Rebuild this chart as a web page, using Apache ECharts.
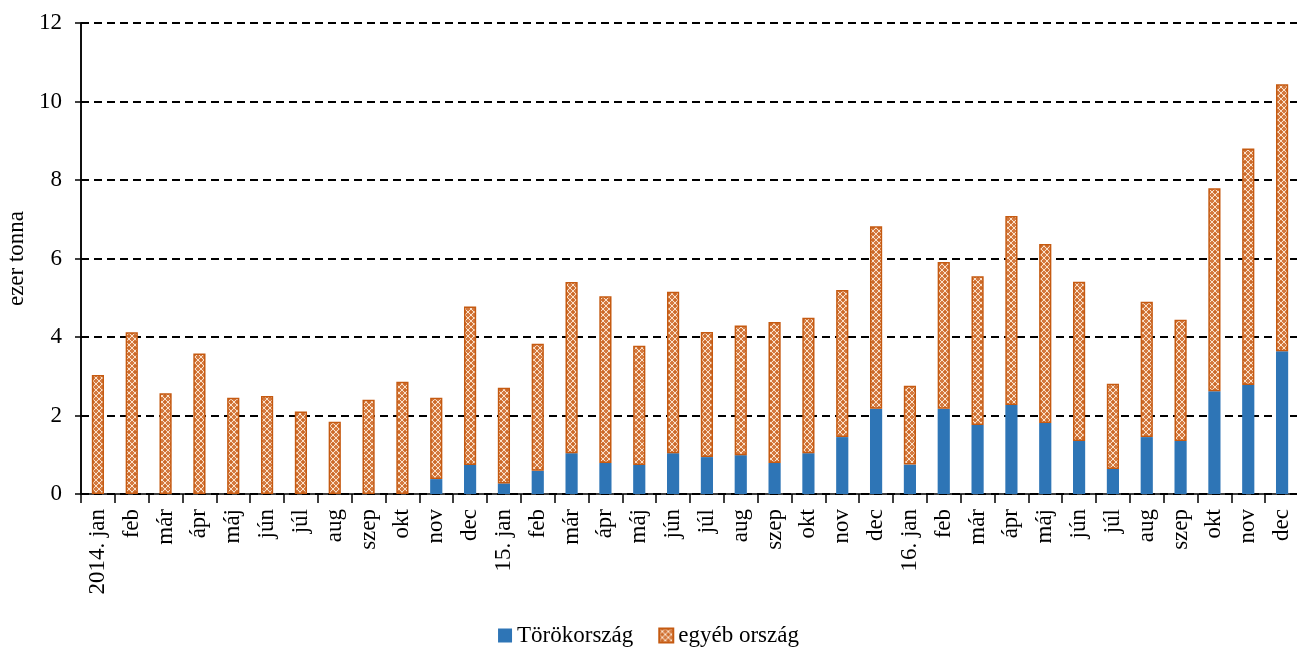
<!DOCTYPE html>
<html><head><meta charset="utf-8">
<script src="https://cdn.jsdelivr.net/npm/echarts@6/dist/echarts.min.js"></script>
<style>html,body{margin:0;padding:0;background:#fff}#c{width:1297px;height:650px}</style>
</head><body><div id="c"></div>
<script>
const categories = ['2014. jan','feb','már','ápr','máj','jún','júl','aug','szep','okt','nov','dec',
  '15. jan','feb','már','ápr','máj','jún','júl','aug','szep','okt','nov','dec',
  '16. jan','feb','már','ápr','máj','jún','júl','aug','szep','okt','nov','dec'];
const turkey = [0,0,0,0,0,0,0,0,0,0,0.38,0.74,
  0.27,0.59,1.04,0.79,0.74,1.04,0.94,0.99,0.79,1.04,1.45,2.17,
  0.75,2.17,1.76,2.27,1.81,1.35,0.64,1.45,1.35,2.62,2.78,3.64];
const other = [3.03,4.12,2.57,3.58,2.45,2.50,2.10,1.84,2.40,2.86,2.07,4.04,
  2.44,3.24,4.36,4.25,3.04,4.11,3.19,3.30,3.59,3.45,3.75,4.65,
  2.01,3.74,3.79,4.81,4.56,4.06,2.17,3.45,3.09,5.17,6.02,6.80];
const yTicks = [0,2,4,6,8,10,12];
const seriesNames = ['Törökország','egyéb ország'];

// pattern tile for "egyéb ország"
const tile = document.createElement('canvas');
tile.width = 6; tile.height = 6;
const g = tile.getContext('2d');
g.fillStyle = '#D47A40'; g.fillRect(0,0,6,6);
g.strokeStyle = 'rgba(252,232,212,0.95)'; g.lineWidth = 1;
g.beginPath(); g.moveTo(0,0); g.lineTo(6,6); g.moveTo(6,0); g.lineTo(0,6); g.stroke();
g.fillStyle = '#C55A11'; g.fillRect(2.5,0,1,1); g.fillRect(2.5,5,1,1);
const pattern = {image: tile, repeat: 'repeat'};

const font = 'Liberation Serif';
const chart = echarts.init(document.getElementById('c'));
chart.setOption({
  animation: false,
  textStyle: {fontFamily: font, color: '#000'},
  grid: {left: 81, top: 23, width: 1218, height: 471, containLabel: false, outerBoundsMode: 'none'},
  legend: {
    bottom: -2, left: 'center', itemWidth: 14, itemHeight: 14, itemGap: 25, icon: 'rect',
    textStyle: {fontFamily: font, fontSize: 23, color: '#000'},
    data: seriesNames
  },
  xAxis: {
    type: 'category', data: categories,
    axisLine: {lineStyle: {color: '#000', width: 1.5}},
    axisTick: {show: true, length: 9, lineStyle: {color: '#000', width: 1.5}},
    axisLabel: {rotate: 90, interval: 0, fontFamily: font, fontSize: 23, color: '#000', margin: 15}
  },
  yAxis: [{
    type: 'value', min: 0, max: 12, interval: 2,
    name: 'ezer tonna', nameLocation: 'middle', nameGap: 51, nameRotate: 90,
    nameTextStyle: {fontFamily: font, fontSize: 23, color: '#000'},
    axisLine: {show: true, lineStyle: {color: '#000', width: 1.5}},
    axisTick: {show: true, length: 6, lineStyle: {color: '#000', width: 1.5}},
    axisLabel: {fontFamily: font, fontSize: 23, color: '#000', margin: 19,
      formatter: v => yTicks.includes(v) ? String(v) : ''},
    splitLine: {show: true, lineStyle: {color: '#000', width: 1.8, type: [8,5]}}
  },{
    type: 'value', min: 0, max: 12, interval: 2, position: 'left',
    axisLine: {show: true, lineStyle: {color: '#000', width: 1.5}},
    axisTick: {show: true, inside: true, length: 7, lineStyle: {color: '#000', width: 1.5}},
    axisLabel: {show: false}, splitLine: {show: false}
  }],
  series: [{
    name: seriesNames[0], type: 'bar', stack: 't', data: turkey, barWidth: '36%',
    itemStyle: {color: '#2E75B6'}
  },{
    name: seriesNames[1], type: 'bar', stack: 't', data: other, barWidth: '36%',
    itemStyle: {color: pattern, borderColor: '#C55A11', borderWidth: 1.5}
  }]
});
</script></body></html>
